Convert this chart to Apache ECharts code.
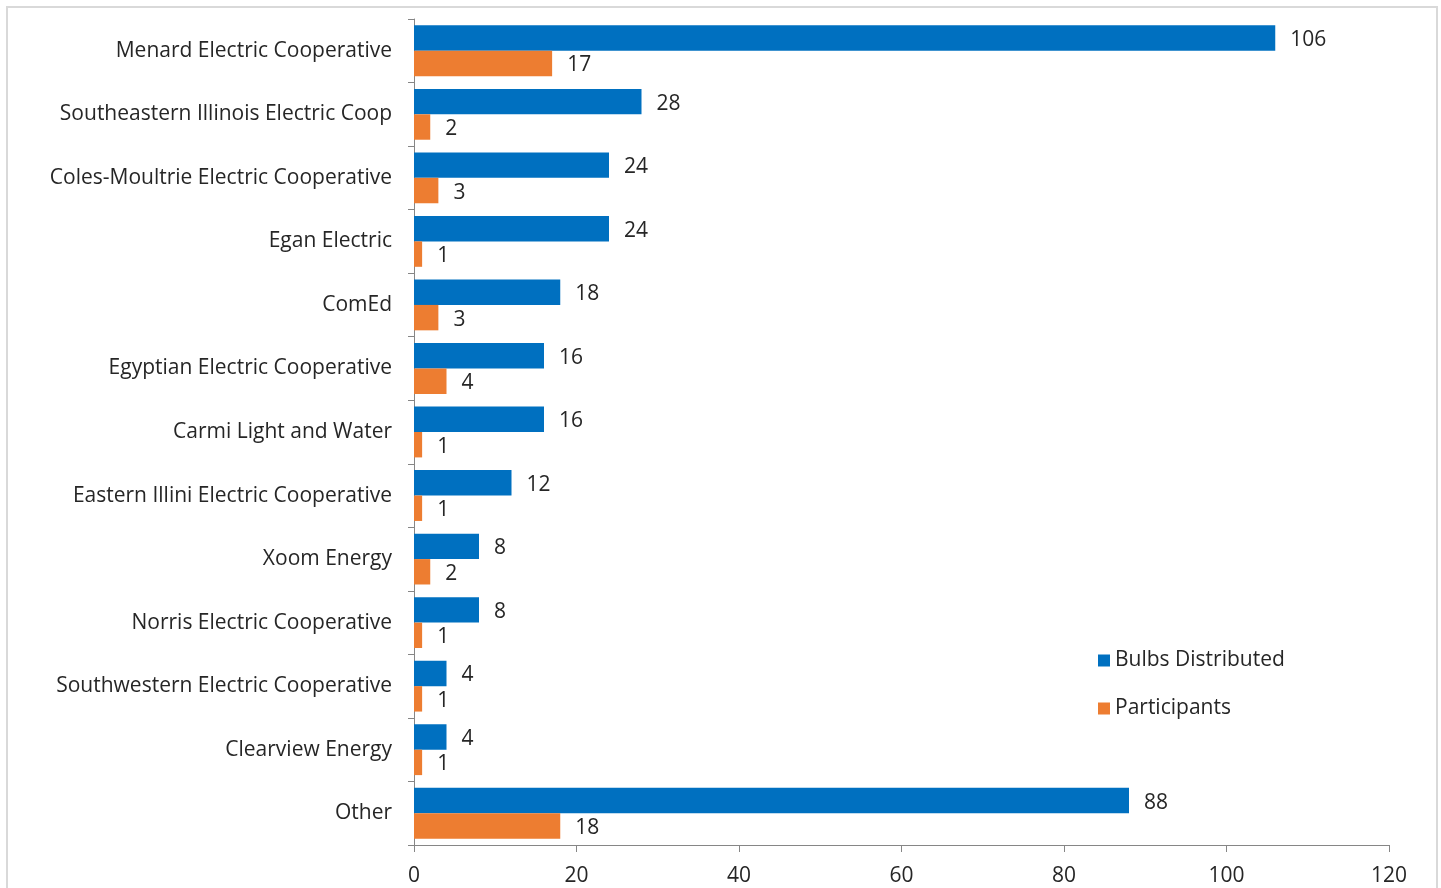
<!DOCTYPE html>
<html>
<head>
<meta charset="utf-8">
<script src="https://cdn.jsdelivr.net/npm/echarts@6/dist/echarts.min.js"></script>
<style>
  html, body { margin: 0; padding: 0; background: #fff; }
  #frame {
    position: absolute; left: 6px; top: 6px; width: 1432px; height: 900px;
    border: 2px solid #d9d9d9; box-sizing: border-box;
  }
  #chart { position: absolute; left: 0; top: 0; width: 1441px; height: 888px; }
</style>
</head>
<body>
<div id="frame"></div>
<div id="chart"></div>
<script>
// data
const categories = [
  'Menard Electric Cooperative',
  'Southeastern Illinois Electric Coop',
  'Coles-Moultrie Electric Cooperative',
  'Egan Electric',
  'ComEd',
  'Egyptian Electric Cooperative',
  'Carmi Light and Water',
  'Eastern Illini Electric Cooperative',
  'Xoom Energy',
  'Norris Electric Cooperative',
  'Southwestern Electric Cooperative',
  'Clearview Energy',
  'Other'
]
const bulbsDistributed = [106, 28, 24, 24, 18, 16, 16, 12, 8, 8, 4, 4, 88]
const participants = [17, 2, 3, 1, 3, 4, 1, 1, 2, 1, 1, 1, 18]
const xTicks = { min: 0, max: 120, interval: 20 }

const fontFamily = '"Open Sans", "Noto Sans", sans-serif'
const textColor = '#262626'
const axisColor = '#868686'

const chart = echarts.init(document.getElementById('chart'), null, { renderer: 'canvas' })

const labelStyle = {
  show: true,
  position: 'right',
  distance: 15,
  color: textColor,
  fontSize: 21,
  fontFamily: fontFamily,
  offset: [0, 2]
}

const option = {
  animation: false,
  grid: {
    left: 414,
    right: 52,
    top: 19,
    bottom: 43,
    containLabel: false
  },
  legend: {
    orient: 'vertical',
    left: 1093,
    top: 645,
    itemWidth: 12,
    itemHeight: 12,
    itemGap: 27,
    icon: 'rect',
    textStyle: { color: textColor, fontSize: 21, fontFamily: fontFamily, padding: [0, 0, 0, 0] },
    data: ['Bulbs Distributed', 'Participants']
  },
  xAxis: {
    type: 'value',
    min: xTicks.min,
    max: xTicks.max,
    interval: xTicks.interval,
    axisLine: { show: true, lineStyle: { color: axisColor, width: 1 } },
    axisTick: { show: true, length: 7, lineStyle: { color: axisColor } },
    splitLine: { show: false },
    axisLabel: { color: textColor, fontSize: 21, fontFamily: fontFamily, margin: 21 }
  },
  yAxis: {
    type: 'category',
    inverse: true,
    data: categories,
    axisLine: { show: true, lineStyle: { color: axisColor, width: 1 } },
    axisTick: { show: true, length: 6, lineStyle: { color: axisColor } },
    axisLabel: { color: textColor, fontSize: 21, fontFamily: fontFamily, margin: 22 }
  },
  series: [
    {
      name: 'Bulbs Distributed',
      type: 'bar',
      data: bulbsDistributed,
      barGap: '0%',
      barCategoryGap: '20%',
      itemStyle: { color: '#0070C0' },
      label: labelStyle
    },
    {
      name: 'Participants',
      type: 'bar',
      data: participants,
      barGap: '0%',
      barCategoryGap: '20%',
      itemStyle: { color: '#ED7D31' },
      label: labelStyle
    }
  ]
}

chart.setOption(option)
</script>
</body>
</html>
